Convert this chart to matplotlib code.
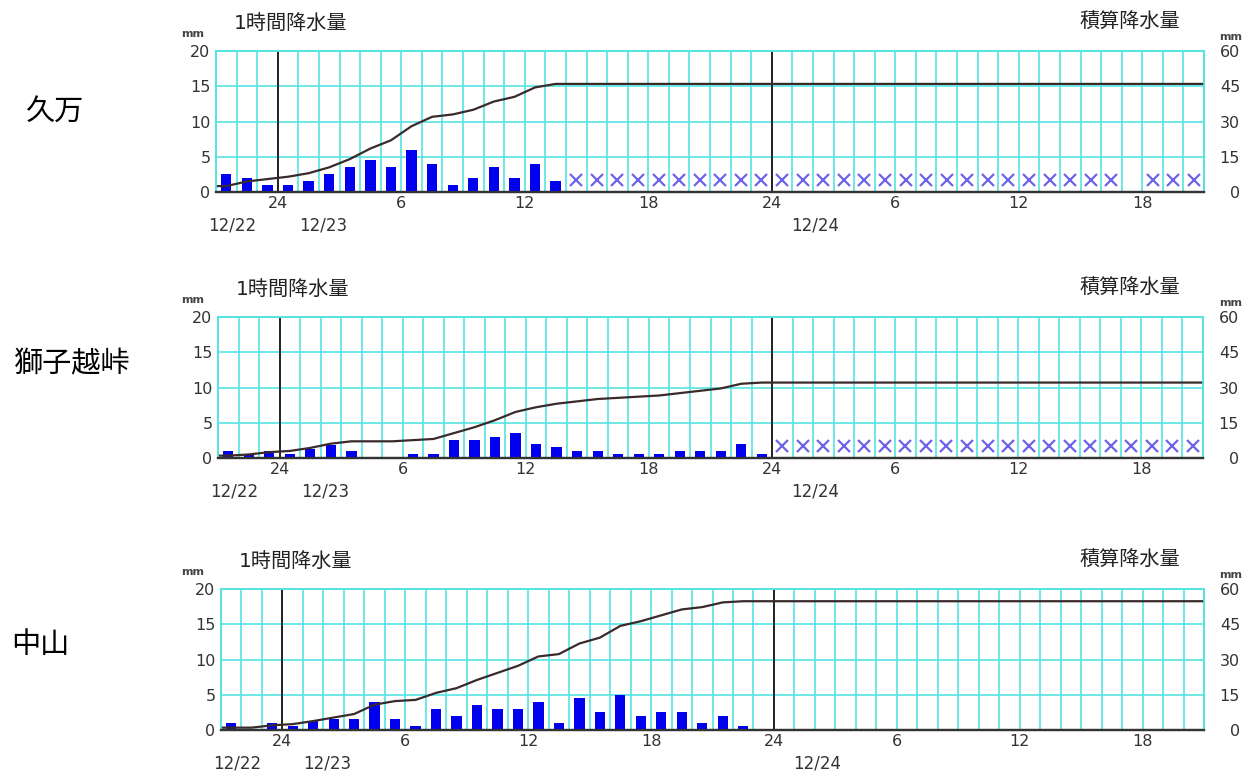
import numpy as np
import matplotlib
matplotlib.use("Agg")
import matplotlib.pyplot as plt
from matplotlib.ticker import MultipleLocator

plt.rcParams['font.family'] = ['DejaVu Sans', 'Noto Sans CJK JP']

W, H = 1253, 776

# hourly cells: 12/22 21:00 -> 12/24 21:00
n_hours = 48
tick_pos = [3, 9, 15, 21, 27, 33, 39, 45]
tick_labels = ['24', '6', '12', '18', '24', '6', '12', '18']
midnights = [3, 27]
date_labels = ['12/22', '12/23', '12/24']
date_pos = [0.8, 5.2, 29.1]

stations = ['久万', '獅子越峠', '中山']

# 1時間降水量 (mm) from the first hour
kuma_rain = [2.5, 2.0, 1.0, 1.0, 1.5, 2.5, 3.5, 4.5, 3.5, 6.0, 4.0, 1.0, 2.0,
             3.5, 2.0, 4.0, 1.5]
shishi_rain = [1.0, 0.5, 1.0, 0.5, 1.3, 1.8, 1.0, 0.0, 0.0, 0.5, 0.5, 2.5, 2.5,
               3.0, 3.5, 2.0, 1.5, 1.0, 1.0, 0.5, 0.5, 0.5, 1.0, 1.0, 1.0,
               2.0, 0.5]
naka_rain = [1.0, 0.0, 1.0, 0.5, 1.3, 1.5, 1.5, 4.0, 1.5, 0.5, 3.0, 2.0, 3.5,
             3.0, 3.0, 4.0, 1.0, 4.5, 2.5, 5.0, 2.0, 2.5, 2.5, 1.0, 2.0, 0.5]

# hours with missing data (x marks)
kuma_missing = list(range(17, 44)) + [45, 46, 47]
shishi_missing = list(range(27, 48))
naka_missing = []

rains = [kuma_rain, shishi_rain, naka_rain]
missings = [kuma_missing, shishi_missing, naka_missing]

# plot boxes in pixels: left, right, top, bottom
boxes = [(216, 1204, 51, 192), (218, 1203, 317, 458), (221, 1204, 589, 730)]
name_xy = [(54, 112), (72, 364), (40, 645)]

CYAN = '#55e3e3'
BLUE = '#0000ee'
CROSS = '#6e64e8'
DARK = '#333333'

fig = plt.figure(figsize=(W / 100, H / 100), dpi=100)


def px(x, y):
    return x / W, 1 - y / H


for i in range(3):
    l, r, t, b = boxes[i]
    rain = rains[i]
    missing = missings[i]

    ax = fig.add_axes([l / W, 1 - b / H, (r - l) / W, (b - t) / H])
    ax.set_xlim(0, n_hours)
    ax.set_ylim(0, 20)
    ax.xaxis.set_minor_locator(MultipleLocator(1))
    ax.set_xticks(tick_pos, tick_labels)
    ax.set_yticks([0, 5, 10, 15, 20])
    ax.grid(True, which='both', axis='x', color=CYAN, lw=1.2)
    ax.grid(True, which='major', axis='y', color=CYAN, lw=1.2)
    ax.set_axisbelow(True)
    ax.tick_params(which='both', length=0)
    ax.tick_params(axis='x', pad=3, labelsize=11.5, colors=DARK)
    ax.tick_params(axis='y', pad=4, labelsize=11.5, colors=DARK)

    for m in midnights:
        ax.axvline(m, color='#222222', lw=1.4, zorder=2.5)

    x = np.arange(len(rain)) + 0.5
    ax.bar(x, rain, width=0.5, color=BLUE, zorder=3)
    if missing:
        mx = np.array(missing) + 0.5
        ax.plot(mx, np.full(len(mx), 1.7), 'x', color=CROSS, ms=8, mew=1.6,
                zorder=3)

    ax2 = ax.twinx()
    ax2.set_ylim(0, 60)
    ax2.set_yticks([0, 15, 30, 45, 60])
    ax2.tick_params(length=0, pad=26, labelsize=11.5, colors=DARK)
    for lab in ax2.get_yticklabels():
        lab.set_horizontalalignment('right')

    cum = np.cumsum(rain)
    ax2.plot(np.r_[0, x, n_hours], np.r_[cum[0], cum, cum[-1]],
             color='#3a2a2a', lw=1.6)

    for a in (ax, ax2):
        for s in ('left', 'top', 'right'):
            a.spines[s].set_color(CYAN)
            a.spines[s].set_linewidth(1.2)
        a.spines['bottom'].set_color(DARK)
        a.spines['bottom'].set_linewidth(1.6)

    for lab, pos in zip(date_labels, date_pos):
        ax.annotate(lab, xy=(pos, 0), xycoords=('data', 'axes fraction'),
                    xytext=(0, -24), textcoords='offset points',
                    ha='center', va='center', fontsize=12, color=DARK)

    fig.text(*px(l + 18, t - 28), '1時間降水量', ha='left', va='center',
             fontsize=14.5, color='#222222')
    fig.text(*px(1130, t - 29), '積算降水量', ha='center', va='center',
             fontsize=14.5, color='#222222')
    fig.text(*px(193, t - 17), 'mm', ha='center', va='center', fontsize=8,
             fontweight='bold', color='#444444')
    fig.text(*px(1231, t - 14), 'mm', ha='center', va='center', fontsize=8,
             fontweight='bold', color='#444444')
    fig.text(*px(*name_xy[i]), stations[i], ha='center', va='center',
             fontsize=21, color='black', family=['Noto Sans CJK JP'])

fig.savefig('out.png', dpi=100)
